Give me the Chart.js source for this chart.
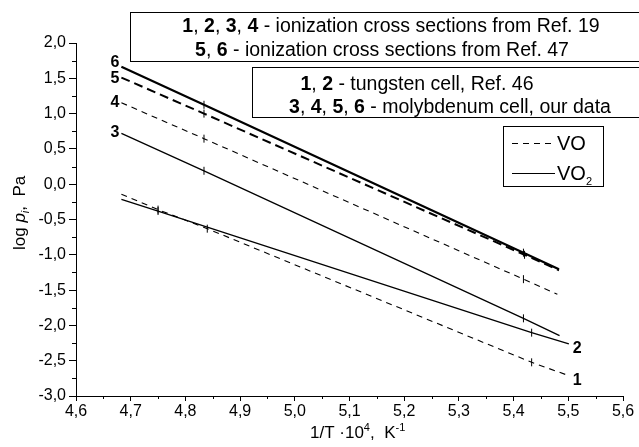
<!DOCTYPE html>
<html>
<head>
<meta charset="utf-8">
<script src="https://cdn.jsdelivr.net/npm/chart.js@4.4.0/dist/chart.umd.min.js"></script>
<style>
  html, body { margin: 0; padding: 0; background: #fff; }
  #wrap { width: 639px; height: 447px; position: relative; }
</style>
</head>
<body>
<div id="wrap"><canvas id="chart" width="639" height="447"></canvas></div>
<script>
// data: 1/T*10^4 (K^-1) vs log p (Pa)
const x1 = [4.683, 4.75, 4.84, 5.433, 5.501];
const y1 = [-0.143, -0.36, -0.63, -2.523, -2.712];
const x2 = [4.683, 4.75, 5.433, 5.501];
const y2 = [-0.214, -0.38, -2.103, -2.263];
const x3 = [4.683, 4.834, 5.418, 5.484];
const y3 = [0.72, 0.19, -1.90, -2.146];
const x4 = [4.683, 4.834, 5.418, 5.480];
const y4 = [1.154, 0.645, -1.345, -1.56];
const x5 = [4.683, 4.834, 5.42, 5.483];
const y5 = [1.51, 1.0, -1.0, -1.22];
const x6 = [4.683, 4.834, 5.418, 5.483];
const y6 = [1.664, 1.125, -0.97, -1.205];

const xTicks = [4.6, 4.7, 4.8, 4.9, 5.0, 5.1, 5.2, 5.3, 5.4, 5.5, 5.6];
const yTicks = [2.0, 1.5, 1.0, 0.5, 0.0, -0.5, -1.0, -1.5, -2.0, -2.5, -3.0];

const FONT = '"Liberation Sans", Arial, sans-serif';

function pts(xs, ys) { return xs.map((x, i) => ({x: x, y: ys[i]})); }
// tick-like markers on inner points only
function rad(xs) { return xs.map((_, i) => (i === 0 || i === xs.length - 1) ? 0 : 4); }

function series(label, xs, ys, width, dash) {
  return {
    label: label,
    data: pts(xs, ys),
    borderColor: '#000',
    backgroundColor: '#000',
    borderWidth: width,
    borderDash: dash,
    pointStyle: 'line',
    rotation: 90,
    pointRadius: rad(xs),
    pointBorderWidth: 1,
    pointBorderColor: '#000',
    showLine: true,
    tension: 0
  };
}

const datasets = [
  series('1', x1, y1, 1.1, [6, 5]),
  series('2', x2, y2, 1.3, []),
  series('3', x3, y3, 1.3, []),
  series('4', x4, y4, 1.1, [6, 5]),
  series('5', x5, y5, 2, [9, 5]),
  series('6', x6, y6, 2.2, [])
];

const fmt = v => v.toFixed(1).replace('.', ',');

// minor ticks, axis titles, curve numbers, text boxes
const decorations = {
  id: 'decorations',
  afterDraw(chart) {
    const {ctx, chartArea: {left, bottom}, scales: {x, y}} = chart;
    ctx.save();
    ctx.strokeStyle = '#000';
    ctx.lineWidth = 1;
    ctx.beginPath();
    for (let i = 0; i < xTicks.length - 1; i++) {
      const px = Math.round(x.getPixelForValue(xTicks[i] + 0.05)) + 0.5;
      ctx.moveTo(px, bottom); ctx.lineTo(px, bottom + 3);
    }
    for (let i = 0; i < yTicks.length - 1; i++) {
      const py = Math.round(y.getPixelForValue(yTicks[i] - 0.25)) + 0.5;
      ctx.moveTo(left, py); ctx.lineTo(left - 4, py);
    }
    ctx.stroke();

    ctx.fillStyle = '#000';
    ctx.textBaseline = 'alphabetic';

    // x title: 1/T ·10^4, K^-1
    let cx = 310, cy = 438;
    ctx.textAlign = 'left';
    const put = (t, f, dy) => { ctx.font = f; ctx.fillText(t, cx, cy + dy); cx += ctx.measureText(t).width; };
    put('1/T \u00b710', '17px ' + FONT, 0);
    put('4', '11px ' + FONT, -7);
    put(',  K', '17px ' + FONT, 0);
    put('-1', '11px ' + FONT, -7);

    // y title: log p_i, Pa (rotated)
    ctx.save();
    ctx.translate(25, 250);
    ctx.rotate(-Math.PI / 2);
    cx = 0; cy = 0;
    put('log ', '17px ' + FONT, 0);
    put('p', 'italic 17px ' + FONT, 0);
    put('i', 'italic 11px ' + FONT, 4);
    put(',  Pa', '17px ' + FONT, 0);
    ctx.restore();

    // curve numbers
    ctx.font = 'bold 16px ' + FONT;
    ctx.textAlign = 'right';
    const startLabels = [['6', x6, y6, 0], ['5', x5, y5, 5], ['4', x4, y4, 4], ['3', x3, y3, 4]];
    startLabels.forEach(([t, xs, ys, dy]) => {
      ctx.fillText(t, x.getPixelForValue(xs[0]) - 2, y.getPixelForValue(ys[0]) + dy);
    });
    ctx.textAlign = 'left';
    [['2', x2, y2], ['1', x1, y1]].forEach(([t, xs, ys]) => {
      const n = xs.length - 1;
      ctx.fillText(t, x.getPixelForValue(xs[n]) + 4, y.getPixelForValue(ys[n]) + 9);
    });

    // text boxes
    const box = (bx, by, bw, bh) => {
      ctx.fillStyle = '#fff';
      ctx.fillRect(bx, by, bw, bh);
      ctx.strokeStyle = '#000';
      ctx.lineWidth = 1;
      ctx.strokeRect(bx + 0.5, by + 0.5, bw, bh);
      ctx.fillStyle = '#000';
    };
    const LF = 19.5;
    const richLine = (parts, centerX, baseY) => {
      let w = 0;
      parts.forEach(([t, b]) => { ctx.font = (b ? 'bold ' : '') + LF + 'px ' + FONT; w += ctx.measureText(t).width; });
      let px = centerX - w / 2;
      ctx.textAlign = 'left';
      parts.forEach(([t, b]) => {
        ctx.font = (b ? 'bold ' : '') + LF + 'px ' + FONT;
        ctx.fillText(t, px, baseY);
        px += ctx.measureText(t).width;
      });
    };
    box(130, 12, 520, 49);
    richLine([['1', 1], [', ', 0], ['2', 1], [', ', 0], ['3', 1], [', ', 0], ['4', 1],
              [' - ionization cross sections from Ref. 19', 0]], 391, 32);
    richLine([['5', 1], [', ', 0], ['6', 1], [' - ionization cross sections from Ref. 47', 0]], 382, 56);

    box(252, 67, 400, 50);
    richLine([['1', 1], [', ', 0], ['2', 1], [' - tungsten cell, Ref. 46', 0]], 417, 90);
    richLine([['3', 1], [', ', 0], ['4', 1], [', ', 0], ['5', 1], [', ', 0], ['6', 1],
              [' - molybdenum cell, our data', 0]], 450, 113);

    // VO / VO2 legend
    box(503, 126, 100, 60);
    ctx.lineWidth = 1.2;
    ctx.setLineDash([6, 5]);
    ctx.beginPath(); ctx.moveTo(512, 143.5); ctx.lineTo(555, 143.5); ctx.stroke();
    ctx.setLineDash([]);
    ctx.beginPath(); ctx.moveTo(512, 173.5); ctx.lineTo(555, 173.5); ctx.stroke();
    ctx.font = '20px ' + FONT;
    ctx.textAlign = 'left';
    ctx.fillText('VO', 557, 150);
    ctx.fillText('VO', 557, 180);
    const w = ctx.measureText('VO').width;
    ctx.font = '11px ' + FONT;
    ctx.fillText('2', 557 + w, 185);
    ctx.restore();
  }
};

new Chart(document.getElementById('chart'), {
  type: 'scatter',
  data: { datasets: datasets },
  options: {
    responsive: false,
    animation: false,
    events: [],
    layout: { padding: { top: 43, right: 16, left: 0, bottom: 0 } },
    plugins: { legend: { display: false }, tooltip: { enabled: false } },
    scales: {
      x: {
        type: 'linear',
        min: 4.6, max: 5.6,
        afterBuildTicks: s => { s.ticks = xTicks.map(v => ({value: v})); },
        afterFit: s => { s.height = 51; },
        ticks: { callback: v => fmt(v), color: '#000', font: { family: FONT, size: 16 }, padding: 1, maxRotation: 0 },
        grid: { drawOnChartArea: false, tickLength: 5, color: '#000' },
        border: { color: '#000', width: 1 }
      },
      y: {
        type: 'linear',
        min: -3.0, max: 2.0,
        afterBuildTicks: s => { s.ticks = yTicks.map(v => ({value: v})); },
        afterFit: s => { s.width = 76; },
        ticks: { callback: v => fmt(v), color: '#000', font: { family: FONT, size: 16 }, padding: 3 },
        grid: { drawOnChartArea: false, tickLength: 7, color: '#000' },
        border: { color: '#000', width: 1 }
      }
    }
  },
  plugins: [decorations]
});
</script>
</body>
</html>
